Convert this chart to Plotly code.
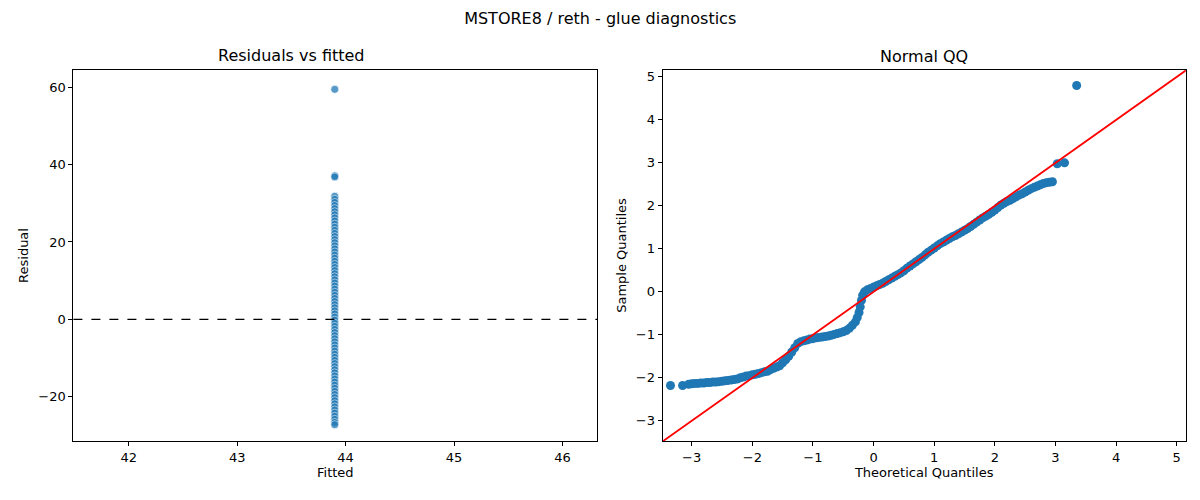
import plotly.graph_objects as go
from plotly.subplots import make_subplots

# residuals vs fitted (single fitted value)
fitted_value = 43.9
residuals = [59.4, 37.1, 36.8, 31.8, 31.0, 30.2, 29.4, 28.6, 27.8, 27.0, 26.2, 25.4, 24.6,
             23.8, 23.0, 22.2, 21.4, 20.6, 19.8, 19.0, 18.2, 17.4, 16.6, 15.8, 15.0, 14.2,
             13.4, 12.6, 11.8, 11.0, 10.2, 9.4, 8.6, 7.8, 7.0, 6.2, 5.4, 4.6, 3.8, 3.0, 2.2,
             1.4, 0.6, -0.2, -1.0, -1.8, -2.6, -3.4, -4.2, -5.0, -5.8, -6.6, -7.4, -8.2,
             -9.0, -9.8, -10.6, -11.4, -12.2, -13.0, -13.8, -14.6, -15.4, -16.2, -17.0,
             -17.8, -18.6, -19.4, -20.2, -21.0, -21.8, -22.6, -23.4, -24.2, -25.0, -25.8,
             -26.6, -27.2]

# normal QQ
theo_q = [-3.35, -3.15, -3.05, -3.0, -2.95, -2.9, -2.85, -2.8, -2.75, -2.7, -2.65, -2.6,
          -2.55, -2.5, -2.45, -2.4, -2.35, -2.3, -2.25, -2.2, -2.15, -2.1, -2.05, -2.0,
          -1.95, -1.9, -1.85, -1.8, -1.75, -1.7, -1.65, -1.6, -1.55, -1.5, -1.45, -1.4,
          -1.35, -1.3, -1.25, -1.2, -1.15, -1.1, -1.05, -1.0, -0.95, -0.9, -0.85, -0.8,
          -0.75, -0.7, -0.65, -0.6, -0.55, -0.5, -0.45, -0.4, -0.35, -0.3, -0.27, -0.24,
          -0.22, -0.2, -0.18, -0.15, -0.1, -0.05, 0.0, 0.05, 0.1, 0.15, 0.2, 0.25, 0.3,
          0.35, 0.4, 0.45, 0.5, 0.55, 0.6, 0.65, 0.7, 0.75, 0.8, 0.85, 0.9, 0.95, 1.0,
          1.05, 1.1, 1.15, 1.2, 1.25, 1.3, 1.35, 1.4, 1.45, 1.5, 1.55, 1.6, 1.65, 1.7,
          1.75, 1.8, 1.85, 1.9, 1.95, 2.0, 2.05, 2.1, 2.15, 2.2, 2.25, 2.3, 2.35, 2.4,
          2.45, 2.5, 2.55, 2.6, 2.65, 2.7, 2.75, 2.8, 2.85, 2.9, 2.95, 3.03, 3.15, 3.35]
sample_q = [-2.18, -2.18, -2.15, -2.14, -2.13, -2.13, -2.12, -2.12, -2.11, -2.11, -2.1,
            -2.1, -2.09, -2.08, -2.07, -2.06, -2.05, -2.04, -2.03, -2.0, -1.98, -1.96,
            -1.95, -1.93, -1.92, -1.9, -1.88, -1.86, -1.85, -1.81, -1.78, -1.75, -1.72,
            -1.65, -1.58, -1.5, -1.4, -1.3, -1.2, -1.16, -1.14, -1.12, -1.1, -1.09,
            -1.07, -1.06, -1.05, -1.04, -1.03, -1.01, -0.99, -0.97, -0.95, -0.93, -0.9,
            -0.85, -0.78, -0.7, -0.6, -0.48, -0.35, -0.2, -0.08, 0.0, 0.05, 0.08, 0.11,
            0.14, 0.17, 0.2, 0.24, 0.28, 0.32, 0.36, 0.4, 0.44, 0.49, 0.55, 0.6, 0.65,
            0.7, 0.75, 0.8, 0.86, 0.92, 0.97, 1.02, 1.07, 1.12, 1.16, 1.2, 1.24, 1.28,
            1.31, 1.35, 1.39, 1.43, 1.47, 1.52, 1.57, 1.62, 1.67, 1.72, 1.76, 1.8, 1.85,
            1.9, 1.96, 2.02, 2.06, 2.1, 2.13, 2.17, 2.21, 2.25, 2.28, 2.32, 2.36, 2.4,
            2.43, 2.46, 2.49, 2.52, 2.54, 2.55, 2.56, 2.98, 3.0, 4.8]
ref_line = [-3.5, 5.2]

blue = "#1f77b4"
font = "DejaVu Sans"

fig = make_subplots(rows=1, cols=2, subplot_titles=["Residuals vs fitted", "Normal QQ"],
                    horizontal_spacing=0.055)

fig.add_trace(go.Scatter(
    x=[fitted_value] * len(residuals), y=residuals, mode="markers",
    marker=dict(color=blue, size=8, opacity=0.75, line=dict(color="white", width=0.7))),
    row=1, col=1)
fig.add_hline(y=0, line_dash="dash", line_color="black", line_width=1.2, row=1, col=1)

fig.add_trace(go.Scatter(x=theo_q, y=sample_q, mode="markers",
                         marker=dict(color=blue, size=9)), row=1, col=2)
fig.add_trace(go.Scatter(x=ref_line, y=ref_line, mode="lines",
                         line=dict(color="red", width=1.8)), row=1, col=2)

axis_style = dict(showgrid=False, zeroline=False, showline=True, linecolor="black",
                  mirror=True, ticks="outside", ticklen=4, tickcolor="black",
                  tickfont=dict(size=13, color="black"))
fig.update_xaxes(**axis_style)
fig.update_yaxes(**axis_style)

ydom = [0.134, 0.876]
fig.update_xaxes(range=[41.49, 46.32], dtick=1, domain=[0.0545, 0.491],
                 title=dict(text="Fitted", font=dict(size=13), standoff=4), row=1, col=1)
fig.update_yaxes(range=[-31.4, 64.4], tickvals=[-20, 0, 20, 40, 60],
                 ticktext=["\u221220", "0", "20", "40", "60"], domain=ydom,
                 title=dict(text="Residual", font=dict(size=13), standoff=6), row=1, col=1)
fig.update_xaxes(range=[-3.48, 5.15], dtick=1, domain=[0.5455, 0.9815],
                 tickvals=[-3, -2, -1, 0, 1, 2, 3, 4, 5],
                 ticktext=["\u22123", "\u22122", "\u22121", "0", "1", "2", "3", "4", "5"],
                 title=dict(text="Theoretical Quantiles", font=dict(size=13), standoff=4),
                 row=1, col=2)
fig.update_yaxes(range=[-3.47, 5.16], domain=ydom,
                 tickvals=[-3, -2, -1, 0, 1, 2, 3, 4, 5],
                 ticktext=["\u22123", "\u22122", "\u22121", "0", "1", "2", "3", "4", "5"],
                 title=dict(text="Sample Quantiles", font=dict(size=13), standoff=6),
                 row=1, col=2)

for ann in fig.layout.annotations:
    ann.font = dict(size=16, color="black", family=font)
    ann.y = 0.881

fig.update_layout(
    width=1200, height=500, showlegend=False,
    title=dict(text="MSTORE8 / reth - glue diagnostics", x=0.4935, xanchor="center",
               y=0.991, yanchor="top", font=dict(size=16, color="black")),
    font=dict(family=font, color="black"),
    plot_bgcolor="white", paper_bgcolor="white",
    margin=dict(l=0, r=0, t=0, b=0),
)

fig.write_html("out.html")
